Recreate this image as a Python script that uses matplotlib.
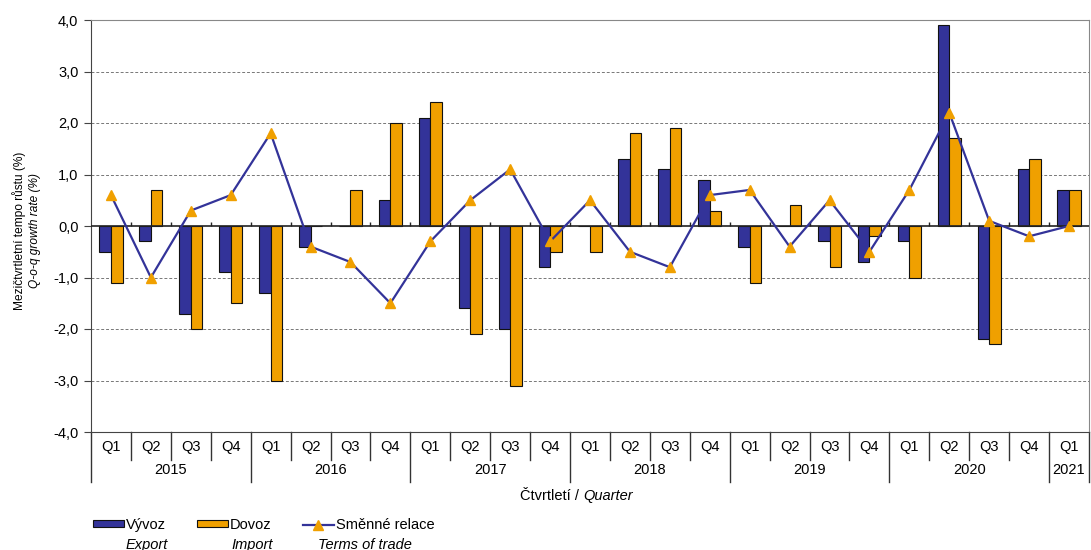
import matplotlib.pyplot as plt
from matplotlib.patches import Patch
from matplotlib.lines import Line2D
from matplotlib.transforms import blended_transform_factory
import numpy as np

plt.rcParams['font.family'] = ['Liberation Sans', 'DejaVu Sans']

years = ['2015', '2016', '2017', '2018', '2019', '2020', '2021']
quarters = ['Q1', 'Q2', 'Q3', 'Q4'] * 6 + ['Q1']
export = [-0.5, -0.3, -1.7, -0.9,
          -1.3, -0.4, 0.0, 0.5,
          2.1, -1.6, -2.0, -0.8,
          0.0, 1.3, 1.1, 0.9,
          -0.4, 0.0, -0.3, -0.7,
          -0.3, 3.9, -2.2, 1.1,
          0.7]
imports = [-1.1, 0.7, -2.0, -1.5,
           -3.0, 0.0, 0.7, 2.0,
           2.4, -2.1, -3.1, -0.5,
           -0.5, 1.8, 1.9, 0.3,
           -1.1, 0.4, -0.8, -0.2,
           -1.0, 1.7, -2.3, 1.3,
           0.7]
terms = [0.6, -1.0, 0.3, 0.6,
         1.8, -0.4, -0.7, -1.5,
         -0.3, 0.5, 1.1, -0.3,
         0.5, -0.5, -0.8, 0.6,
         0.7, -0.4, 0.5, -0.5,
         0.7, 2.2, 0.1, -0.2,
         0.0]
yticks = [-4, -3, -2, -1, 0, 1, 2, 3, 4]
ytick_labels = ['-4,0', '-3,0', '-2,0', '-1,0', '0,0', '1,0', '2,0', '3,0', '4,0']

navy = '#333399'
orange = '#F0A000'

fig = plt.figure(figsize=(10.91, 5.5), dpi=100)
ax = fig.add_axes([91 / 1091, 118 / 550, 998 / 1091, 412 / 550])

x = np.arange(len(quarters))
w = 0.29
ax.bar(x - w / 2, export, w, color=navy, edgecolor='#111111', linewidth=0.8, zorder=3)
ax.bar(x + w / 2, imports, w, color=orange, edgecolor='#111111', linewidth=0.8, zorder=3)
ax.plot(x, terms, color=navy, linewidth=1.6, marker='^', markersize=7,
        markerfacecolor=orange, markeredgecolor=orange, zorder=4)

ax.set_xlim(-0.5, len(quarters) - 0.5)
ax.set_ylim(-4, 4)
ax.set_yticks(yticks)
ax.set_yticklabels(ytick_labels, fontsize=10.5)
ax.tick_params(axis='y', length=5, width=0.8, color='#444444', pad=4)
ax.set_xticks([])
for v in yticks[1:-1]:
    if v != 0:
        ax.axhline(v, color='#777777', linestyle=(0, (3, 2)), linewidth=0.7, zorder=1)
ax.axhline(0, color='#222222', linewidth=1.2, zorder=3)
ax.vlines(x[1:] - 0.5, 0, 0.07, color='#222222', linewidth=1.0, zorder=3)

for s in ['top', 'right']:
    ax.spines[s].set_color('#888888')
    ax.spines[s].set_linewidth(0.8)
ax.spines['left'].set_color('#444444')
ax.spines['bottom'].set_color('#444444')

# category axis below the plot
tr = blended_transform_factory(ax.transData, ax.transAxes)
ax_h = 412
for i, q in enumerate(quarters):
    ax.text(i, -15 / ax_h, q, transform=tr, ha='center', va='center', fontsize=10.5)
for i in range(len(quarters) + 1):
    year_edge = i % 4 == 0 or i == len(quarters)
    y_end = -50 / ax_h if year_edge else -28 / ax_h
    ax.plot([i - 0.5, i - 0.5], [0, y_end], transform=tr, color='#333333',
            linewidth=1.0, clip_on=False)
for k, yr in enumerate(years):
    start = k * 4
    end = min(start + 4, len(quarters))
    ax.text((start + end - 1) / 2, -38 / ax_h, yr, transform=tr, ha='center',
            va='center', fontsize=10.5)

fig.text(579 / 1091, 1 - 496 / 550, 'Čtvrtletí /', ha='right', va='center', fontsize=10.5)
fig.text(583 / 1091, 1 - 496 / 550, 'Quarter', ha='left', va='center', fontsize=10.5,
         style='italic')

fig.text(19 / 1091, 1 - 231 / 550, 'Mezičtvrtletní tempo růstu (%)', rotation=90,
         ha='center', va='center', fontsize=8.6)
fig.text(35 / 1091, 1 - 231 / 550, 'Q-o-q growth rate (%)', rotation=90,
         ha='center', va='center', fontsize=8.6, style='italic')

handles = [Patch(facecolor=navy, edgecolor='#111111', linewidth=0.8),
           Patch(facecolor=orange, edgecolor='#111111', linewidth=0.8),
           Line2D([], [], color=navy, linewidth=1.6, marker='^', markersize=7,
                  markerfacecolor=orange, markeredgecolor=orange)]
fig.legend(handles, ['Vývoz', 'Dovoz', 'Směnné relace'], loc='center left',
           bbox_to_anchor=(93 / 1091, 1 - 525 / 550), ncol=3, frameon=False,
           fontsize=10.5, handlelength=2.1, handleheight=0.4, handletextpad=0.15,
           columnspacing=2.15, borderaxespad=0, borderpad=0)
for xp, lab in [(147, 'Export'), (252, 'Import'), (365, 'Terms of trade')]:
    fig.text(xp / 1091, 1 - 545 / 550, lab, ha='center', va='center', fontsize=10.5,
             style='italic')

fig.savefig('out.png', dpi=100)
